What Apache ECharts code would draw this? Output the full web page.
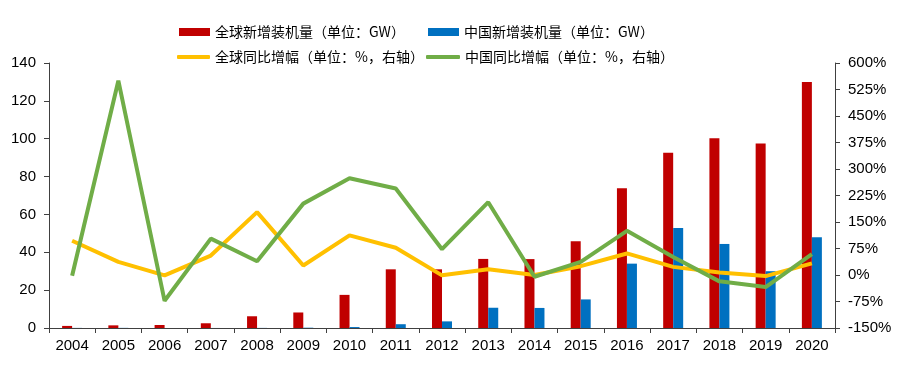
<!DOCTYPE html>
<html><head><meta charset="utf-8">
<script src="https://cdn.jsdelivr.net/npm/echarts@6/dist/echarts.min.js"></script>
<style>html,body{margin:0;padding:0;background:#fff}#c{width:903px;height:365px}</style>
</head><body><div id="c"></div>
<script>
var years = ['2004','2005','2006','2007','2008','2009','2010','2011','2012','2013','2014','2015','2016','2017','2018','2019','2020'];
var globalNew = [1.1, 1.4, 1.6, 2.5, 6.2, 8.2, 17.5, 31, 31, 36.5, 36.4, 45.8, 73.8, 92.6, 100.2, 97.5, 130];
var chinaNew = [0.05, 0.07, 0.01, 0.02, 0.05, 0.16, 0.5, 2.0, 3.5, 10.7, 10.6, 15.1, 34, 52.8, 44.4, 30, 48];
var globalYoY = [97, 37, -1, 55, 178, 27, 112, 77, -1, 16, 0, 25, 61, 23, 7, -3, 33];
var chinaYoY = [-2, 550, -73, 103, 39, 202, 274, 245, 73, 206, -5, 37, 125, 51, -18, -34, 59];
var leftTicks = {min: 0, max: 140, interval: 20};
var rightTicks = {min: -150, max: 600, interval: 75};
var names = ['全球新增装机量（单位：GW）','中国新增装机量（单位：GW）','全球同比增幅（单位：%，右轴）','中国同比增幅（单位：%，右轴）'];

var chart = echarts.init(document.getElementById('c'));
var axisColor = '#404040';
var txt = {color: '#000', fontSize: 14, fontFamily: 'Noto Sans CJK SC'};
function lg(name, left, top, icon, w, h) {
  return {data: [name], left: left, top: top, icon: icon, itemWidth: w, itemHeight: h, itemGap: 0,
          textStyle: txt, padding: 0, selectedMode: false};
}
chart.setOption({
  animation: false,
  legend: [
    lg(names[0], 179, 25, 'rect', 31, 8),
    lg(names[1], 428, 25, 'rect', 31, 8),
    lg(names[2], 177, 50, 'roundRect', 33, 4),
    lg(names[3], 426, 50, 'roundRect', 34, 4)
  ],
  grid: {left: 49, right: 68, top: 63, bottom: 37},
  xAxis: {
    type: 'category', data: years,
    axisLine: {lineStyle: {color: axisColor, width: 1}},
    axisTick: {show: true, length: 5, lineStyle: {color: axisColor}},
    axisLabel: {color: '#000', fontSize: 15, fontFamily: 'Liberation Sans', margin: 10}
  },
  yAxis: [
    {type: 'value', min: leftTicks.min, max: leftTicks.max, interval: leftTicks.interval,
     axisLine: {show: true, lineStyle: {color: axisColor}},
     axisTick: {show: true, length: 5, lineStyle: {color: axisColor}},
     splitLine: {show: false},
     axisLabel: {color: '#000', fontSize: 15, fontFamily: 'Liberation Sans', margin: 13}},
    {type: 'value', min: rightTicks.min, max: rightTicks.max, interval: rightTicks.interval, position: 'right',
     axisLine: {show: true, lineStyle: {color: axisColor}},
     axisTick: {show: true, length: 5, lineStyle: {color: axisColor}},
     splitLine: {show: false},
     axisLabel: {color: '#000', fontSize: 15, fontFamily: 'Liberation Sans', margin: 13, formatter: '{value}%'}}
  ],
  series: [
    {name: names[0], type: 'bar', data: globalNew, barWidth: 10, barGap: '0%', itemStyle: {color: '#C00000'}},
    {name: names[1], type: 'bar', data: chinaNew, barWidth: 10, barGap: '0%', itemStyle: {color: '#0070C0'}},
    {name: names[2], type: 'line', yAxisIndex: 1, data: globalYoY, showSymbol: false, symbol: 'none',
     lineStyle: {color: '#FFC000', width: 4}, itemStyle: {color: '#FFC000'}, z: 3},
    {name: names[3], type: 'line', yAxisIndex: 1, data: chinaYoY, showSymbol: false, symbol: 'none',
     lineStyle: {color: '#70AD47', width: 4}, itemStyle: {color: '#70AD47'}, z: 4}
  ]
});
</script></body></html>
